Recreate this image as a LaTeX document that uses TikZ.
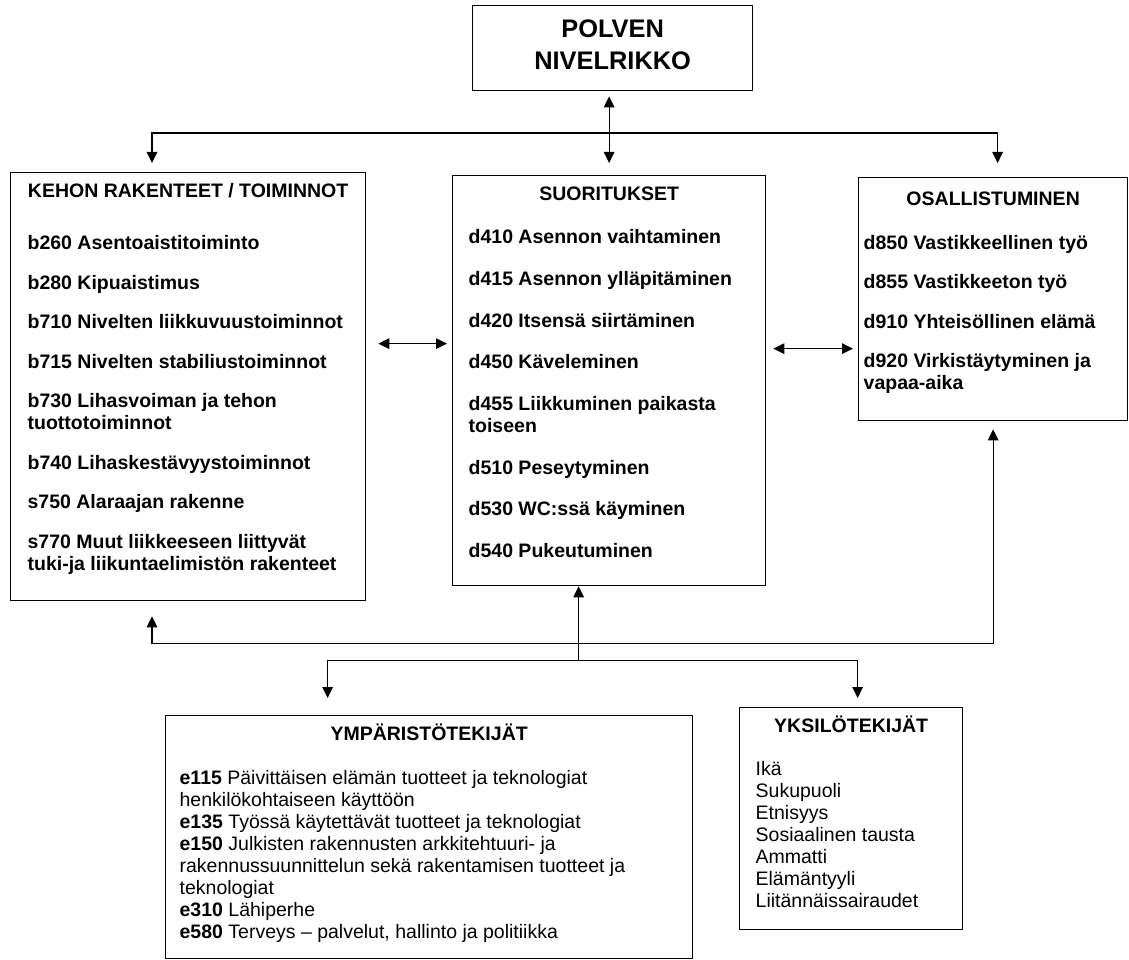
\documentclass[tikz,border=0pt]{standalone}
\usepackage{fontspec}
\setmainfont{Liberation Sans}
\usetikzlibrary{arrows.meta}

% box text: width, height, gap between items, content
\newcommand{\panel}[4]{\parbox[c][#2][t]{#1}{\fontsize{19.5}{22}\selectfont\raggedright\setlength{\parskip}{#3}#4}}
\newcommand{\head}[2][25pt]{{\centering\bfseries\rule{0pt}{#1}#2\par}}

\begin{document}
\begin{tikzpicture}[x=1pt, y=-1pt,
  box/.style={draw, line width=1.3pt, inner ysep=0pt, anchor=north west},
  arr/.style={-{Triangle[length=11pt,width=10.5pt]}, line width=1.3pt},
  biarr/.style={{Triangle[length=11pt,width=10.5pt]}-{Triangle[length=11pt,width=10.5pt]}, line width=1.3pt}]
\useasboundingbox (0,0) rectangle (1129,960);

\node[box, inner xsep=0pt] (polvi) at (472,5) {\parbox[c][85pt][t]{280pt}{\centering\fontsize{25.4}{32}\selectfont\bfseries\rule{0pt}{32pt}POLVEN\\NIVELRIKKO}};

\node[box, inner xsep=17pt] (kehon) at (10,172) {\panel{321pt}{428pt}{17.5pt}{\head{KEHON RAKENTEET / TOIMINNOT}\vspace{12.5pt}\bfseries
b260 Asentoaistitoiminto\par
b280 Kipuaistimus\par
b710 Nivelten liikkuvuustoiminnot\par
b715 Nivelten stabiliustoiminnot\par
b730 Lihasvoiman ja tehon\\tuottotoiminnot\par
b740 Lihaskestävyystoiminnot\par
s750 Alaraajan rakenne\par
s770 Muut liikkeeseen liittyvät\\tuki-ja liikuntaelimistön rakenteet\par}};

\node[box, inner xsep=16pt] (suor) at (452,175) {\panel{281pt}{410pt}{19.7pt}{\head{SUORITUKSET}\vspace{1.3pt}\bfseries
d410 Asennon vaihtaminen\par
d415 Asennon ylläpitäminen\par
d420 Itsensä siirtäminen\par
d450 Käveleminen\par
d455 Liikkuminen paikasta\\toiseen\par
d510 Peseytyminen\par
d530 WC:ssä käyminen\par
d540 Pukeutuminen\par}};

\node[box, inner xsep=5pt] (osal) at (858,177) {\panel{259pt}{243pt}{17.3pt}{\head[28pt]{OSALLISTUMINEN}\vspace{4.7pt}\bfseries
d850 Vastikkeellinen työ\par
d855 Vastikkeeton työ\par
d910 Yhteisöllinen elämä\par
d920 Virkistäytyminen ja\\vapaa-aika\par}};

\node[box, inner xsep=14pt] (ymp) at (165,715) {\panel{499pt}{243pt}{0pt}{\head{YMPÄRISTÖTEKIJÄT}\vspace{22pt}
\textbf{e115} Päivittäisen elämän tuotteet ja teknologiat\\henkilökohtaiseen käyttöön\par
\textbf{e135} Työssä käytettävät tuotteet ja teknologiat\par
\textbf{e150} Julkisten rakennusten arkkitehtuuri- ja\\rakennussuunnittelun sekä rakentamisen tuotteet ja\\teknologiat\par
\textbf{e310} Lähiperhe\par
\textbf{e580} Terveys – palvelut, hallinto ja politiikka\par}};

\node[box, inner xsep=16pt] (yks) at (739,707) {\panel{191pt}{222pt}{0pt}{\head{YKSILÖTEKIJÄT}\vspace{21pt}
Ikä\par
Sukupuoli\par
Etnisyys\par
Sosiaalinen tausta\par
Ammatti\par
Elämäntyyli\par
Liitännäissairaudet\par}};

% top links
\coordinate (split) at ([yshift=42pt]suor.north);
\draw[biarr, shorten <=5pt, shorten >=12pt] (suor.north |- polvi.south) -- (suor.north);
\draw[arr, shorten >=9pt] (split) -| ([xshift=142pt]kehon.north west);
\draw[arr, shorten >=14pt] (split) -| ([xshift=4.5pt]osal.north);

% side links
\draw[biarr, shorten <=12pt, shorten >=5pt] ([yshift=43pt]kehon.east) -- ([yshift=43pt]kehon.east -| suor.west);
\draw[biarr, shorten <=7pt, shorten >=5pt] ([yshift=32pt]suor.east) -- ([yshift=32pt]suor.east -| osal.west);

% bottom links
\coordinate (stem) at ([xshift=-30.5pt]suor.south);
\coordinate (back) at ([yshift=-57pt]stem);
\coordinate (fork) at ([yshift=-74pt]stem);
\draw[biarr, shorten <=15pt, shorten >=8pt] ([xshift=142pt]kehon.south west) |- (back) -| (osal.south);
\draw[arr] (fork) -- (stem);
\draw[arr, shorten >=17pt] (fork) -| ([xshift=-101.5pt]ymp.north);
\draw[arr, shorten >=9pt] (fork) -| ([xshift=6.5pt]yks.north);
\end{tikzpicture}
\end{document}
